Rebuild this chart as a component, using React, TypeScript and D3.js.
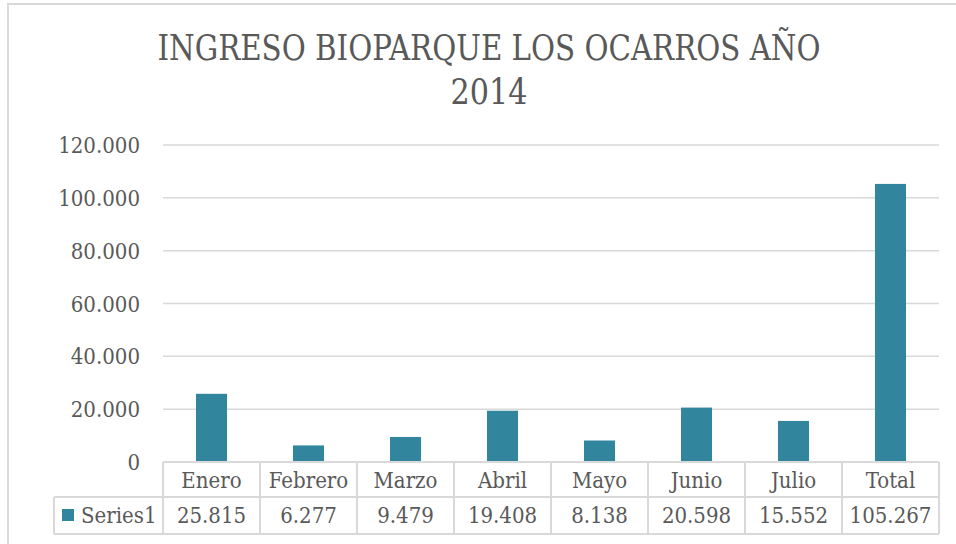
import React from 'react';
import * as d3 from 'd3';

const categories = ['Enero', 'Febrero', 'Marzo', 'Abril', 'Mayo', 'Junio', 'Julio', 'Total'];
const values = [25815, 6277, 9479, 19408, 8138, 20598, 15552, 105267];
const seriesName = 'Series1';
const titleLines = ['INGRESO BIOPARQUE LOS OCARROS AÑO', '2014'];
const yTicks = [0, 20000, 40000, 60000, 80000, 100000, 120000];

const width = 956;
const height = 544;
const plot = { left: 163, right: 939, top: 145, bottom: 462 };
const table = { left: 54, row1: 497, row2: 534 };

const barColor = '#31859c';
const lineColor = '#d9d9d9';
const textColor = '#595959';
const font = "'DejaVu Serif', 'Liberation Serif', serif";

const esLocale = d3.formatLocale({ decimal: ',', thousands: '.', grouping: [3], currency: ['', ''] });
const fmt = esLocale.format(',d');

const App = () => {
  const x = d3.scaleBand().domain(categories).range([plot.left, plot.right]).padding(0);
  const y = d3.scaleLinear().domain([0, 120000]).range([plot.bottom, plot.top]);
  const bw = x.bandwidth();
  const barW = bw * 0.32;

  const textStyle = { fontFamily: font, fontStretch: 'condensed' as const, fill: textColor };

  return (
    <svg width={width} height={height} style={{ position: 'absolute', left: 0, top: 0, background: '#fff' }}>
      <rect x={8} y={4} width={980} height={600} fill="#fff" stroke={lineColor} strokeWidth={2} />

      {/* title */}
      <text x={489} y={60} textAnchor="middle" fontSize={35} textLength={663} lengthAdjust="spacingAndGlyphs" style={textStyle}>
        {titleLines[0]}
      </text>
      <text x={489} y={104} textAnchor="middle" fontSize={35} textLength={77} lengthAdjust="spacingAndGlyphs" style={textStyle}>
        {titleLines[1]}
      </text>

      {/* gridlines and y labels */}
      {yTicks.map(t => (
        <g key={t}>
          {t > 0 && <line x1={plot.left} x2={plot.right} y1={y(t)} y2={y(t)} stroke={lineColor} strokeWidth={1.5} />}
          <text x={140} y={y(t) + 8} textAnchor="end" fontSize={22} style={textStyle}>{fmt(t)}</text>
        </g>
      ))}

      {/* bars */}
      {categories.map((c, i) => (
        <rect key={c} x={(x(c) as number) + (bw - barW) / 2} y={y(values[i])} width={barW}
          height={y(0) - y(values[i])} fill={barColor} />
      ))}

      {/* data table */}
      <g stroke={lineColor} strokeWidth={2} fill="none">
        <line x1={plot.left} x2={plot.right} y1={plot.bottom} y2={plot.bottom} />
        <line x1={table.left} x2={plot.right} y1={table.row1} y2={table.row1} />
        <line x1={table.left} x2={plot.right} y1={table.row2} y2={table.row2} />
        <line x1={table.left} x2={table.left} y1={table.row1} y2={table.row2} />
        {categories.map(c => (
          <line key={c} x1={x(c)} x2={x(c)} y1={plot.bottom} y2={table.row2} />
        ))}
        <line x1={plot.right} x2={plot.right} y1={plot.bottom} y2={table.row2} />
      </g>
      {categories.map((c, i) => (
        <g key={c}>
          <text x={(x(c) as number) + bw / 2} y={488} textAnchor="middle" fontSize={22} style={textStyle}>{c}</text>
          <text x={(x(c) as number) + bw / 2} y={523} textAnchor="middle" fontSize={22} style={textStyle}>{fmt(values[i])}</text>
        </g>
      ))}
      <rect x={62} y={509} width={12} height={12} fill={barColor} />
      <text x={81} y={523} fontSize={22} style={textStyle}>{seriesName}</text>
    </svg>
  );
};

export default App;
